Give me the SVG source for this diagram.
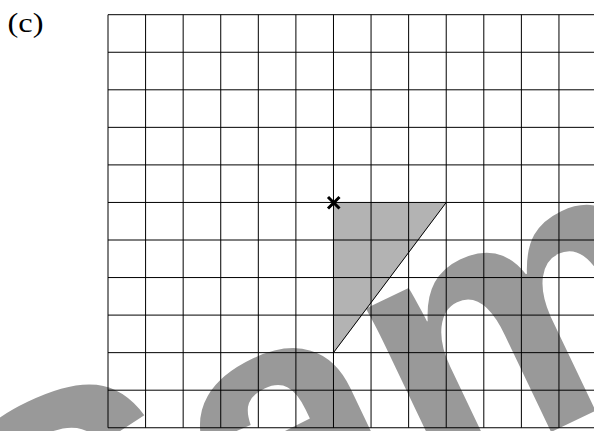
<svg xmlns="http://www.w3.org/2000/svg" width="594" height="431" viewBox="0 0 594 431">
<style>
.grid line{stroke:#000;stroke-width:1}
.wm{font-family:"Liberation Sans",Arial,sans-serif;font-weight:bold;fill:#999999}
.lbl{font-family:"Liberation Serif","Times New Roman",serif;fill:#000}
</style>
<rect width="594" height="431" fill="#fff"/>
<g id="watermark">
<text class="wm" x="0" y="0" font-size="362" transform="translate(27 682) rotate(-25.5)">Sample</text>
</g>
<g id="shape">
<polygon points="333.6,202.6 446.4,202.6 333.6,352.9" fill="#b3b3b3"/>
</g>
<g id="grid" class="grid">
<line x1="108" y1="14.7" x2="594" y2="14.7"/>
<line x1="108" y1="52.25" x2="594" y2="52.25"/>
<line x1="108" y1="89.8" x2="594" y2="89.8"/>
<line x1="108" y1="127.35" x2="594" y2="127.35"/>
<line x1="108" y1="164.9" x2="594" y2="164.9"/>
<line x1="108" y1="202.45" x2="594" y2="202.45"/>
<line x1="108" y1="240" x2="594" y2="240"/>
<line x1="108" y1="277.55" x2="594" y2="277.55"/>
<line x1="108" y1="315.1" x2="594" y2="315.1"/>
<line x1="108" y1="352.65" x2="594" y2="352.65"/>
<line x1="108" y1="390.2" x2="594" y2="390.2"/>
<line x1="108" y1="427.75" x2="594" y2="427.75"/>
<line x1="108" y1="14.7" x2="108" y2="427.75"/>
<line x1="145.58" y1="14.7" x2="145.58" y2="427.75"/>
<line x1="183.16" y1="14.7" x2="183.16" y2="427.75"/>
<line x1="220.74" y1="14.7" x2="220.74" y2="427.75"/>
<line x1="258.32" y1="14.7" x2="258.32" y2="427.75"/>
<line x1="295.9" y1="14.7" x2="295.9" y2="427.75"/>
<line x1="333.48" y1="14.7" x2="333.48" y2="427.75"/>
<line x1="371.06" y1="14.7" x2="371.06" y2="427.75"/>
<line x1="408.64" y1="14.7" x2="408.64" y2="427.75"/>
<line x1="446.22" y1="14.7" x2="446.22" y2="427.75"/>
<line x1="483.8" y1="14.7" x2="483.8" y2="427.75"/>
<line x1="521.38" y1="14.7" x2="521.38" y2="427.75"/>
<line x1="558.96" y1="14.7" x2="558.96" y2="427.75"/>
</g>
<g id="hypotenuse">
<line x1="446.22" y1="202.45" x2="333.48" y2="352.65" stroke="#000" stroke-width="1"/>
</g>
<g id="cross">
<path d="M328,197 L339.5,208.5 M339.5,197 L328,208.5" stroke="#000" stroke-width="3"/>
</g>
<g id="label">
<text class="lbl" x="7.5" y="32" font-size="28" textLength="36" lengthAdjust="spacingAndGlyphs">(c)</text>
</g>
</svg>
